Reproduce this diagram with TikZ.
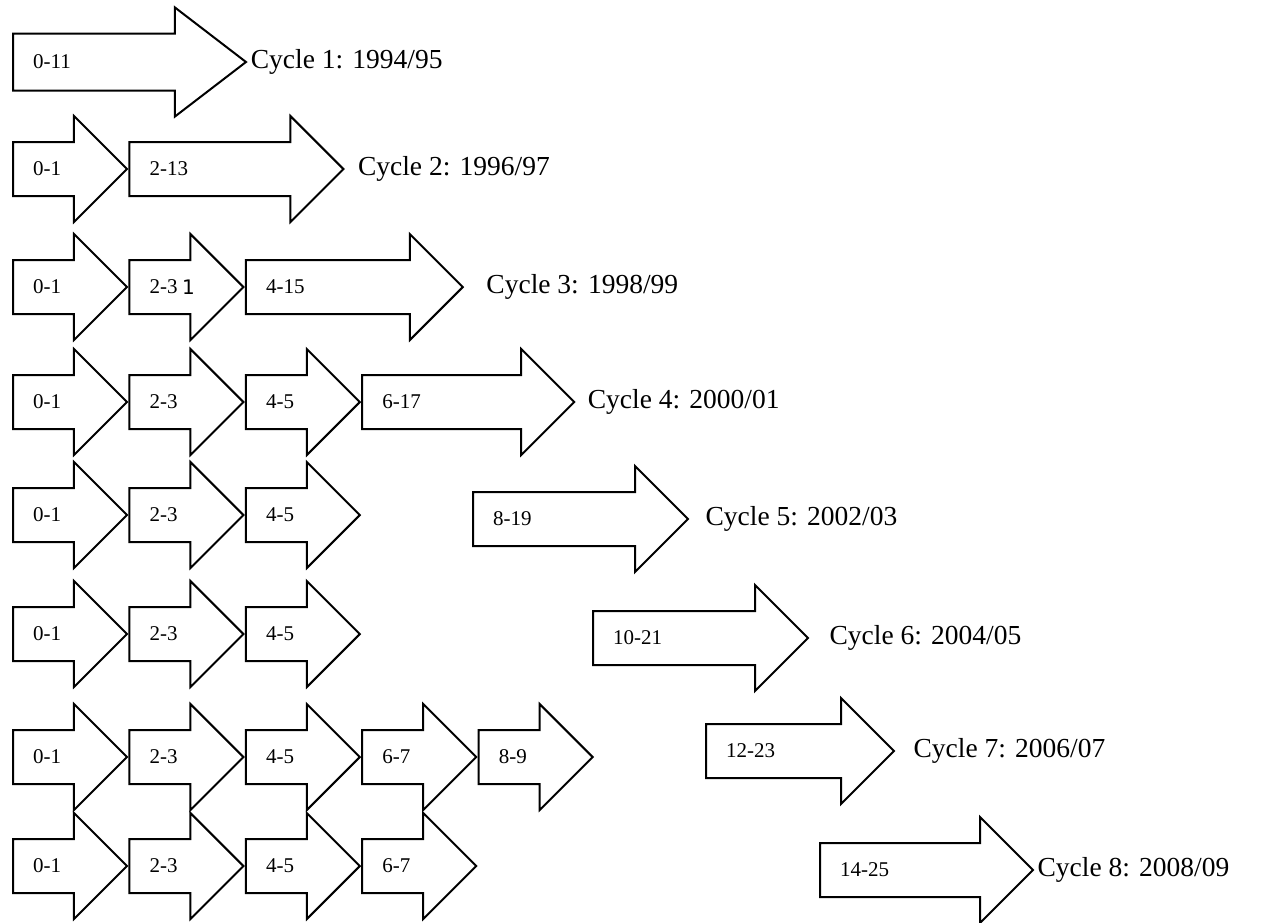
\documentclass[tikz,border=0pt]{standalone}
\usepackage{fontspec}
\setmainfont{Liberation Serif}
\newfontfamily\onefont{DejaVu Sans}
\usetikzlibrary{shapes.arrows,positioning}

\begin{document}
\begin{tikzpicture}[x=1pt,y=-1pt,
cyc/.style ={single arrow ,draw ,line width=2pt ,inner xsep=0pt ,inner ysep=26pt ,
 minimum height=#1 ,
 single arrow head extend=26pt ,single arrow tip angle=90 ,anchor=tail},
cyc/.default=114pt,
yrs/.style ={inner sep=0pt ,anchor=west ,font=\fontsize{21}{24}\selectfont},
lbl/.style ={inner sep=0pt ,anchor=west ,font=\fontsize{27.5}{32}\selectfont}]
\useasboundingbox (0,0) rectangle (1272,922);
% cycle 1
\node[cyc=233pt ,inner ysep=27.5pt ,single arrow tip angle=75] (r1a) at (12,62) {};
\node[yrs] (n1a) [right=21pt of r1a.tail] {0-11};
\node[lbl] (c1) [right=3pt of r1a.tip] {Cycle 1: 1994/95};
% cycle 2
\node[cyc] (r2a) at (12,169) {};
\node[cyc=214pt] (r2b) at (r2a.tip) {};
\node[yrs] (n2a) [right=21pt of r2a.tail] {0-1};
\node[yrs] (n2b) [right=21pt of r2b.tail] {2-13};
\node[lbl] (c2) [right=13pt of r2b.tip] {Cycle 2: 1996/97};
% cycle 3
\node[cyc] (r3a) at (12,287) {};
\node[cyc] (r3b) at (r3a.tip) {};
\node[cyc=217pt] (r3c) at (r3b.tip) {};
\node[yrs] (n3a) [right=21pt of r3a.tail] {0-1};
\node[yrs] (n3b) [right=21pt of r3b.tail] {2-3};
\node[inner sep=0pt ,font=\onefont\fontsize{20}{24}\selectfont] (one) [right=4pt of n3b] {1};
\node[yrs] (n3c) [right=21pt of r3c.tail] {4-15};
\node[lbl] (c3) [right=22pt of r3c.tip] {Cycle 3: 1998/99};
% cycle 4
\node[cyc] (r4a) at (12,402) {};
\node[cyc] (r4b) at (r4a.tip) {};
\node[cyc] (r4c) at (r4b.tip) {};
\node[cyc=212pt] (r4d) at (r4c.tip) {};
\node[yrs] (n4a) [right=21pt of r4a.tail] {0-1};
\node[yrs] (n4b) [right=21pt of r4b.tail] {2-3};
\node[yrs] (n4c) [right=21pt of r4c.tail] {4-5};
\node[yrs] (n4d) [right=21pt of r4d.tail] {6-17};
\node[lbl] (c4) [right=12pt of r4d.tip] {Cycle 4: 2000/01};
% cycle 5
\node[cyc] (r5a) at (12,515) {};
\node[cyc] (r5b) at (r5a.tip) {};
\node[cyc] (r5c) at (r5b.tip) {};
\node[cyc=215pt] (r5d) at (472,519) {};
\node[yrs] (n5a) [right=21pt of r5a.tail] {0-1};
\node[yrs] (n5b) [right=21pt of r5b.tail] {2-3};
\node[yrs] (n5c) [right=21pt of r5c.tail] {4-5};
\node[yrs] (n5d) [right=21pt of r5d.tail] {8-19};
\node[lbl] (c5) [right=16pt of r5d.tip] {Cycle 5: 2002/03};
% cycle 6
\node[cyc] (r6a) at (12,634) {};
\node[cyc] (r6b) at (r6a.tip) {};
\node[cyc] (r6c) at (r6b.tip) {};
\node[cyc=215pt] (r6d) at (592,638) {};
\node[yrs] (n6a) [right=21pt of r6a.tail] {0-1};
\node[yrs] (n6b) [right=21pt of r6b.tail] {2-3};
\node[yrs] (n6c) [right=21pt of r6c.tail] {4-5};
\node[yrs] (n6d) [right=21pt of r6d.tail] {10-21};
\node[lbl] (c6) [right=20pt of r6d.tip] {Cycle 6: 2004/05};
% cycle 7
\node[cyc] (r7a) at (12,757) {};
\node[cyc] (r7b) at (r7a.tip) {};
\node[cyc] (r7c) at (r7b.tip) {};
\node[cyc] (r7d) at (r7c.tip) {};
\node[cyc] (r7e) at (r7d.tip) {};
\node[cyc=188pt] (r7f) at (705,751) {};
\node[yrs] (n7a) [right=21pt of r7a.tail] {0-1};
\node[yrs] (n7b) [right=21pt of r7b.tail] {2-3};
\node[yrs] (n7c) [right=21pt of r7c.tail] {4-5};
\node[yrs] (n7d) [right=21pt of r7d.tail] {6-7};
\node[yrs] (n7e) [right=21pt of r7e.tail] {8-9};
\node[yrs] (n7f) [right=21pt of r7f.tail] {12-23};
\node[lbl] (c7) [right=18pt of r7f.tip] {Cycle 7: 2006/07};
% cycle 8
\node[cyc] (r8a) at (12,866) {};
\node[cyc] (r8b) at (r8a.tip) {};
\node[cyc] (r8c) at (r8b.tip) {};
\node[cyc] (r8d) at (r8c.tip) {};
\node[cyc=213pt] (r8e) at (819,870) {};
\node[yrs] (n8a) [right=21pt of r8a.tail] {0-1};
\node[yrs] (n8b) [right=21pt of r8b.tail] {2-3};
\node[yrs] (n8c) [right=21pt of r8c.tail] {4-5};
\node[yrs] (n8d) [right=21pt of r8d.tail] {6-7};
\node[yrs] (n8e) [right=21pt of r8e.tail] {14-25};
\node[lbl] (c8) [right=3pt of r8e.tip] {Cycle 8: 2008/09};
\end{tikzpicture}
\end{document}
